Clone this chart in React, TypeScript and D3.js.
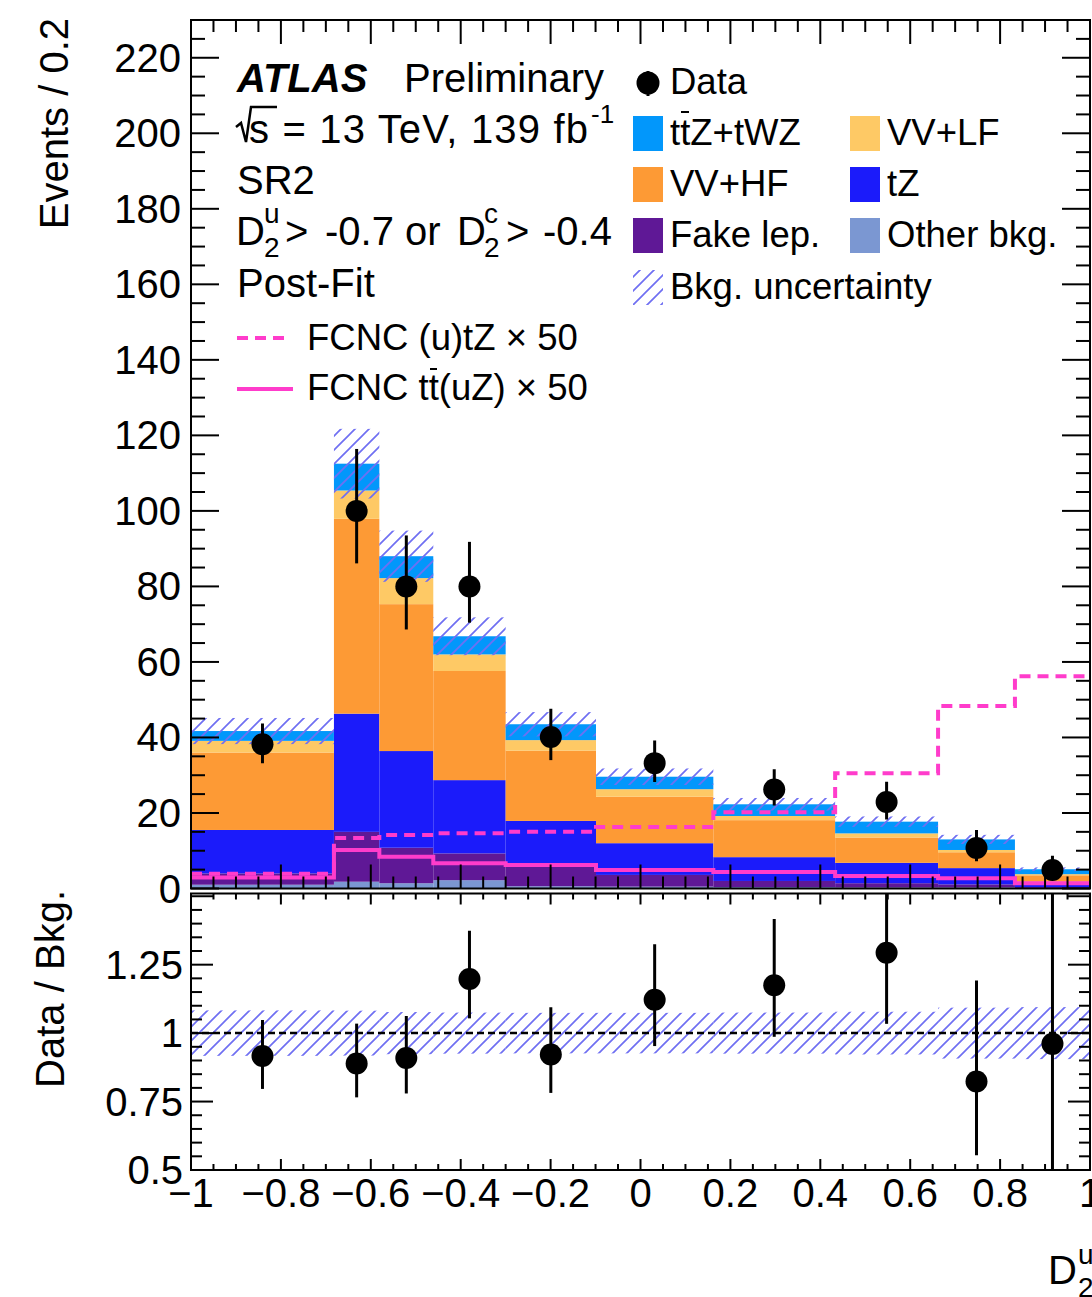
import React from 'react';
import * as d3 from 'd3';

// ---------------- data ----------------
const binEdges = [-1, -0.682, -0.581, -0.461, -0.3, -0.099, 0.162, 0.433, 0.662, 0.833, 1];
const otherBkg = [1.0, 1.8, 1.4, 2.2, 0.6, 0.5, 0.4, 0.3, 0.3, 0.1];
const fakeLep = [3.0, 13.2, 9.4, 7.1, 5.2, 3.1, 1.6, 1.1, 0.8, 0.3];
const tZ = [11.5, 31.3, 25.6, 19.4, 12.1, 8.4, 6.3, 5.4, 4.3, 1.4];
const vvHF = [20.5, 51.6, 38.9, 28.9, 18.6, 12.3, 9.8, 6.7, 4.2, 1.7];
const vvLF = [3.1, 7.5, 6.9, 4.4, 2.8, 2.0, 1.1, 1.1, 0.6, 0.3];
const ttZtWZ = [2.6, 7.1, 5.8, 4.8, 4.2, 3.3, 3.1, 3.1, 2.8, 1.3];
const bkgRelUnc = [0.083, 0.082, 0.077, 0.075, 0.074, 0.074, 0.075, 0.078, 0.093, 0.095];
const fcncUtZ = [3.9, 13.4, 14.2, 14.6, 15.0, 16.3, 20.2, 30.5, 48.3, 56.2];
const fcncTtUZ = [2.9, 10.2, 8.4, 6.7, 6.2, 4.9, 4.4, 3.3, 2.7, 1.4];
const dataVals = [38.2, 100, 80, 80, 40.1, 33.2, 26.2, 22.9, 10.7, 4.9];
const dataErrUp = [5.5, 16.4, 13.5, 11.8, 7.5, 6.0, 5.4, 5.4, 4.8, 3.8];
const dataErrDown = [5.0, 13.9, 11.4, 9.6, 6.1, 5.0, 4.2, 4.6, 3.5, 2.6];

const xMajorTicks = [-1, -0.8, -0.6, -0.4, -0.2, 0, 0.2, 0.4, 0.6, 0.8, 1];
const xTickLabels = ['\u22121', '\u22120.8', '\u22120.6', '\u22120.4', '\u22120.2', '0', '0.2', '0.4', '0.6', '0.8', '1'];
const yMajorTicks = [0, 20, 40, 60, 80, 100, 120, 140, 160, 180, 200, 220];
const rMajorTicks = [0.5, 0.75, 1, 1.25, 1.5];
const rTickLabels = ['0.5', '0.75', '1', '1.25', ''];

const COLORS = {
  other: '#7b97d2',
  fake: '#5f1896',
  tz: '#1b1bfa',
  vvhf: '#fd9a35',
  vvlf: '#fec965',
  ttz: '#0297fb',
  fcnc: '#ff3ccb',
  hatch: '#6f6ff2',
};

const FONT = "'Liberation Sans', Arial, Helvetica, sans-serif";

export default function App() {
  const x = d3.scaleLinear().domain([-1, 1]).range([191, 1090]);
  const y = d3.scaleLinear().domain([0, 230]).range([888.5, 20]);
  const r = d3.scaleLinear().domain([0.5, 1.51]).range([1170, 893.5]);

  const keys = ['other', 'fake', 'tz', 'vvhf', 'vvlf', 'ttz'];
  const rows = binEdges.slice(0, -1).map((_, i) => ({
    other: otherBkg[i], fake: fakeLep[i], tz: tZ[i], vvhf: vvHF[i], vvlf: vvLF[i], ttz: ttZtWZ[i],
  }));
  const series = d3.stack<any>().keys(keys)(rows);
  const totals = rows.map((d: any) => keys.reduce((s, k) => s + d[k], 0));

  const stepPts = (vals: number[]) => {
    const pts: [number, number][] = vals.map((v, i) => [binEdges[i], v]);
    pts.push([binEdges[binEdges.length - 1], vals[vals.length - 1]]);
    return pts;
  };
  const stepLine = d3.line<[number, number]>()
    .x(d => x(d[0]))
    .y(d => y(d[1]))
    .curve(d3.curveStepAfter);

  const centers = binEdges.slice(0, -1).map((e, i) => (e + binEdges[i + 1]) / 2);

  const xMinor = d3.range(-1, 1.0001, 0.05);
  const yMinor = d3.range(0, 230.001, 5);
  const rMinor = d3.range(0.5, 1.5101, 0.05);

  const L = 191, R = 1090, T = 20, B = 888.5, RT = 893.5, RB = 1170;

  return (
    <div style={{ position: 'absolute', left: 0, top: 0 }}>
      <svg width={1092} height={1297} style={{ display: 'block', background: '#fff' }} fontFamily={FONT}>
        <defs>
          <pattern id="hatch" patternUnits="userSpaceOnUse" width={14} height={14}>
            <path d="M0,14 L14,0 M-3.5,3.5 L3.5,-3.5 M10.5,17.5 L17.5,10.5" stroke={COLORS.hatch} strokeWidth={1.7} fill="none" />
          </pattern>
          <clipPath id="mainClip"><rect x={L} y={T} width={R - L} height={B - T} /></clipPath>
          <clipPath id="ratioClip"><rect x={L} y={RT} width={R - L} height={RB - RT} /></clipPath>
        </defs>
        <rect x={0} y={0} width={1092} height={1297} fill="#fff" />

        {/* ---------- main panel ---------- */}
        <g clipPath="url(#mainClip)">
          {series.map((s: any) => (
            <g key={s.key} fill={(COLORS as any)[s.key]}>
              {s.map((d: any, i: number) => (
                <rect key={i} x={x(binEdges[i])} width={x(binEdges[i + 1]) - x(binEdges[i])}
                  y={y(d[1])} height={Math.max(0, y(d[0]) - y(d[1]))} />
              ))}
            </g>
          ))}
          {totals.map((t, i) => (
            <rect key={'u' + i} x={x(binEdges[i])} width={x(binEdges[i + 1]) - x(binEdges[i])}
              y={y(t * (1 + bkgRelUnc[i]))} height={y(t * (1 - bkgRelUnc[i])) - y(t * (1 + bkgRelUnc[i]))}
              fill="url(#hatch)" />
          ))}
          <path d={stepLine(stepPts(fcncTtUZ)) || ''} fill="none" stroke={COLORS.fcnc} strokeWidth={4} />
          <path d={stepLine(stepPts(fcncUtZ)) || ''} fill="none" stroke={COLORS.fcnc} strokeWidth={4} strokeDasharray="11 7" />
          {dataVals.map((v, i) => (
            <g key={'d' + i}>
              <line x1={x(centers[i])} x2={x(centers[i])} y1={y(v + dataErrUp[i])} y2={y(v - dataErrDown[i])} stroke="#000" strokeWidth={3} />
              <circle cx={x(centers[i])} cy={y(v)} r={11} fill="#000" />
            </g>
          ))}
        </g>

        {/* main ticks */}
        <g stroke="#000" strokeWidth={2}>
          {xMinor.map((v, i) => {
            const major = xMajorTicks.some(m => Math.abs(m - v) < 1e-6);
            const len = major ? 24 : 12;
            return (
              <g key={'xm' + i}>
                <line x1={x(v)} x2={x(v)} y1={B} y2={B - len} />
                <line x1={x(v)} x2={x(v)} y1={T} y2={T + len} />
              </g>
            );
          })}
          {yMinor.map((v, i) => {
            const major = yMajorTicks.some(m => Math.abs(m - v) < 1e-6);
            const len = major ? 28 : 14;
            return (
              <g key={'ym' + i}>
                <line x1={L} x2={L + len} y1={y(v)} y2={y(v)} />
                <line x1={R} x2={R - len} y1={y(v)} y2={y(v)} />
              </g>
            );
          })}
        </g>
        <rect x={L} y={T} width={R - L} height={B - T} fill="none" stroke="#000" strokeWidth={2} />
        <g fontSize={40} textAnchor="end" fill="#000">
          {yMajorTicks.map(v => (
            <text key={'yl' + v} x={181} y={y(v) + 14}>{v}</text>
          ))}
        </g>
        <text transform="translate(68,18) rotate(-90)" textAnchor="end" fontSize={40}>Events / 0.2</text>

        {/* ATLAS label block */}
        <g fontSize={40} fill="#000">
          <text x={237} y={92} fontWeight="bold" fontStyle="italic">ATLAS</text>
          <text x={404} y={92}>Preliminary</text>
          <path d="M236,127 L241,123 L246,142 L251,107 L277,107" fill="none" stroke="#000" strokeWidth={2.5} />
          <text x={249} y={143} textLength={339} lengthAdjust="spacing">s = 13 TeV, 139 fb</text>
          <text x={591} y={123} fontSize={26}>-1</text>
          <text x={237} y={194}>SR2</text>
          <text x={236} y={245}>D</text>
          <text x={264} y={223} fontSize={28}>u</text>
          <text x={264} y={257} fontSize={28}>2</text>
          <text x={285} y={245}>&gt;</text>
          <text x={325} y={245}>-0.7 or</text>
          <text x={457} y={245}>D</text>
          <text x={484} y={223} fontSize={28}>c</text>
          <text x={484} y={257} fontSize={28}>2</text>
          <text x={506} y={245}>&gt;</text>
          <text x={543} y={245}>-0.4</text>
          <text x={237} y={297}>Post-Fit</text>
        </g>
        <g fontSize={36.5} fill="#000">
          <line x1={237} x2={289} y1={338} y2={338} stroke={COLORS.fcnc} strokeWidth={4} strokeDasharray="11 7" />
          <text x={307} y={350}>FCNC (u)tZ × 50</text>
          <line x1={237} x2={293} y1={389} y2={389} stroke={COLORS.fcnc} strokeWidth={4} />
          <text x={307} y={400}>FCNC tt(uZ) × 50</text>
          <line x1={430} x2={437} y1={369} y2={369} stroke="#000" strokeWidth={2} />
        </g>

        {/* right legend */}
        <g fontSize={36.5} fill="#000">
          <line x1={648} x2={648} y1={71} y2={96} stroke="#000" strokeWidth={3} />
          <circle cx={648} cy={83} r={11.5} fill="#000" />
          <text x={670} y={94}>Data</text>

          <rect x={633} y={116} width={30} height={35} fill={COLORS.ttz} />
          <text x={670} y={145}>ttZ+tWZ</text>
          <line x1={681} x2={689} y1={112} y2={112} stroke="#000" strokeWidth={2} />
          <rect x={850} y={116} width={30} height={35} fill={COLORS.vvlf} />
          <text x={887} y={145}>VV+LF</text>

          <rect x={633} y={167} width={30} height={35} fill={COLORS.vvhf} />
          <text x={670} y={196}>VV+HF</text>
          <rect x={850} y={167} width={30} height={35} fill={COLORS.tz} />
          <text x={887} y={196}>tZ</text>

          <rect x={633} y={218} width={30} height={35} fill={COLORS.fake} />
          <text x={670} y={247}>Fake lep.</text>
          <rect x={850} y={218} width={30} height={35} fill={COLORS.other} />
          <text x={887} y={247}>Other bkg.</text>

          <rect x={633} y={270} width={30} height={35} fill="url(#hatch)" />
          <text x={670} y={299}>Bkg. uncertainty</text>
        </g>

        {/* ---------- ratio panel ---------- */}
        <g clipPath="url(#ratioClip)">
          {totals.map((t, i) => (
            <rect key={'ru' + i} x={x(binEdges[i])} width={x(binEdges[i + 1]) - x(binEdges[i])}
              y={r(1 + bkgRelUnc[i])} height={r(1 - bkgRelUnc[i]) - r(1 + bkgRelUnc[i])} fill="url(#hatch)" />
          ))}
          <line x1={L} x2={R} y1={r(1)} y2={r(1)} stroke="#000" strokeWidth={2.5} strokeDasharray="7 4" />
          {dataVals.map((v, i) => {
            const t = totals[i];
            return (
              <g key={'rd' + i}>
                <line x1={x(centers[i])} x2={x(centers[i])} y1={r((v + dataErrUp[i]) / t)} y2={r((v - dataErrDown[i]) / t)} stroke="#000" strokeWidth={3} />
                <circle cx={x(centers[i])} cy={r(v / t)} r={11} fill="#000" />
              </g>
            );
          })}
        </g>
        <g stroke="#000" strokeWidth={2}>
          {xMinor.map((v, i) => {
            const major = xMajorTicks.some(m => Math.abs(m - v) < 1e-6);
            const len = major ? 11 : 6;
            return (
              <g key={'rxm' + i}>
                <line x1={x(v)} x2={x(v)} y1={RB} y2={RB - len} />
                <line x1={x(v)} x2={x(v)} y1={RT} y2={RT + len} />
              </g>
            );
          })}
          {rMinor.map((v, i) => {
            const major = rMajorTicks.some(m => Math.abs(m - v) < 1e-6);
            const len = major ? 22 : 11;
            return (
              <g key={'rym' + i}>
                <line x1={L} x2={L + len} y1={r(v)} y2={r(v)} />
                <line x1={R} x2={R - len} y1={r(v)} y2={r(v)} />
              </g>
            );
          })}
        </g>
        <rect x={L} y={RT} width={R - L} height={RB - RT} fill="none" stroke="#000" strokeWidth={2} />
        <g fontSize={40} textAnchor="end" fill="#000">
          {rMajorTicks.map((v, i) => (
            <text key={'rl' + i} x={183} y={r(v) + 14}>{rTickLabels[i]}</text>
          ))}
        </g>
        <g fontSize={40} textAnchor="middle" fill="#000">
          {xMajorTicks.map((v, i) => (
            <text key={'xl' + i} x={x(v)} y={1207}>{xTickLabels[i]}</text>
          ))}
        </g>
        <text transform="translate(64,890) rotate(-90)" textAnchor="end" fontSize={40}>Data / Bkg.</text>

        {/* x title */}
        <g fontSize={40} fill="#000">
          <text x={1048} y={1284}>D</text>
          <text x={1078} y={1264} fontSize={28}>u</text>
          <text x={1078} y={1297} fontSize={28}>2</text>
        </g>
      </svg>
    </div>
  );
}
